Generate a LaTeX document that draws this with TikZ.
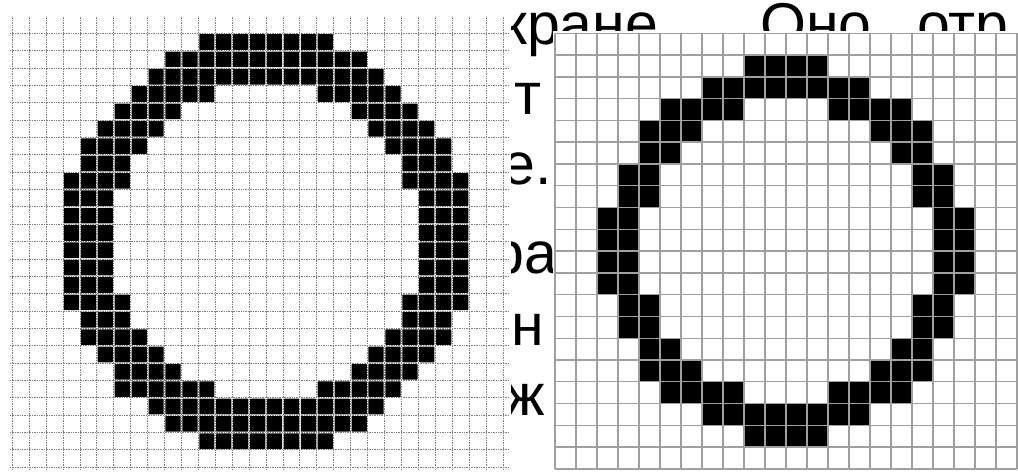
\documentclass[tikz,border=0pt]{standalone}
\usepackage{fontspec}
\setmainfont{Liberation Sans}
\begin{document}
\begin{tikzpicture}[
  x=1pt, y=-1pt,
  txt/.style={anchor=base west, inner sep=0pt, font=\fontsize{59}{70}\selectfont},
  finegrid/.style={draw=black!50, line width=0.9pt, dash pattern=on 1pt off 0.7pt},
  coarsegrid/.style={draw=gray!75, line width=1.4pt},
  pix/.style={fill=black, rounded corners=0.6pt}
]
  \useasboundingbox (0,0) rectangle (1018,476);
  \fill[white] (0,0) rectangle (1018,476);
  \node[txt] (kranye) at (501,45)  {кране.};
  \node[txt] (ono)    at (760,45)  {Оно};
  \node[txt] (otr)    at (917,45)  {отр};
  \node[txt] (te)     at (514,115) {т};
  \node[txt] (ye)     at (502,185) {е.};
  \node[txt] (ra)     at (491,273) {ра};
  \node[txt] (en)     at (511,345) {н};
  \node[txt] (zhe)    at (505,415) {ж};

  % fine raster
  \fill[white] (0,0) rectangle (511,476);
  \begin{scope}[shift={(12.3,33.3)}, x=16.92pt, y=-17.36pt]
    \foreach \r/\a/\b in {0/11/18, 1/9/20, 2/8/21, 3/7/11, 3/18/22, 4/6/9, 4/20/23,
        5/5/8, 5/21/24, 6/4/7, 6/22/25, 7/4/6, 7/23/25, 8/3/6, 8/23/26,
        9/3/5, 9/24/26, 10/3/5, 10/24/26, 11/3/5, 11/24/26, 12/3/5, 12/24/26,
        13/3/5, 13/24/26, 14/3/5, 14/24/26, 15/3/6, 15/23/26, 16/4/6, 16/23/25,
        17/4/7, 17/22/25, 18/5/8, 18/21/24, 19/6/9, 19/20/23, 20/6/11, 20/18/22,
        21/8/21, 22/9/20, 23/11/18}
      \foreach \c in {\a,...,\b}
        \fill[pix] (\c+0.05,\r+0.05) rectangle (\c+0.95,\r+0.95);
    \foreach \k in {0,...,29}
      \draw[finegrid] (\k,-0.96) -- (\k,25.15);
    \foreach \j in {0,...,25}
      \draw[finegrid] (-0.14,\j) -- (29.3,\j);
  \end{scope}

  % coarse raster
  \fill[white] (553,31) rectangle (1018,476);
  \begin{scope}[shift={(555,33.3)}, x=21pt, y=-21.78pt]
    \foreach \r/\a/\b in {1/9/12, 2/7/14, 3/5/8, 3/13/16, 4/4/6, 4/15/17,
        5/4/5, 5/16/17, 6/3/4, 6/17/18, 7/3/4, 7/17/18, 8/2/3, 8/18/19,
        9/2/3, 9/18/19, 10/2/3, 10/18/19, 11/2/3, 11/18/19, 12/3/4, 12/17/18,
        13/3/4, 13/17/18, 14/4/5, 14/16/17, 15/4/6, 15/15/17, 16/5/8, 16/13/16,
        17/7/14, 18/9/12}
      \foreach \c in {\a,...,\b}
        \fill[black] (\c,\r) rectangle (\c+1,\r+1);
    \foreach \k in {0,...,22}
      \draw[coarsegrid] (\k,0) -- (\k,20);
    \foreach \j in {0,...,20}
      \draw[coarsegrid] (0,\j) -- (22,\j);
  \end{scope}
\end{tikzpicture}
\end{document}
